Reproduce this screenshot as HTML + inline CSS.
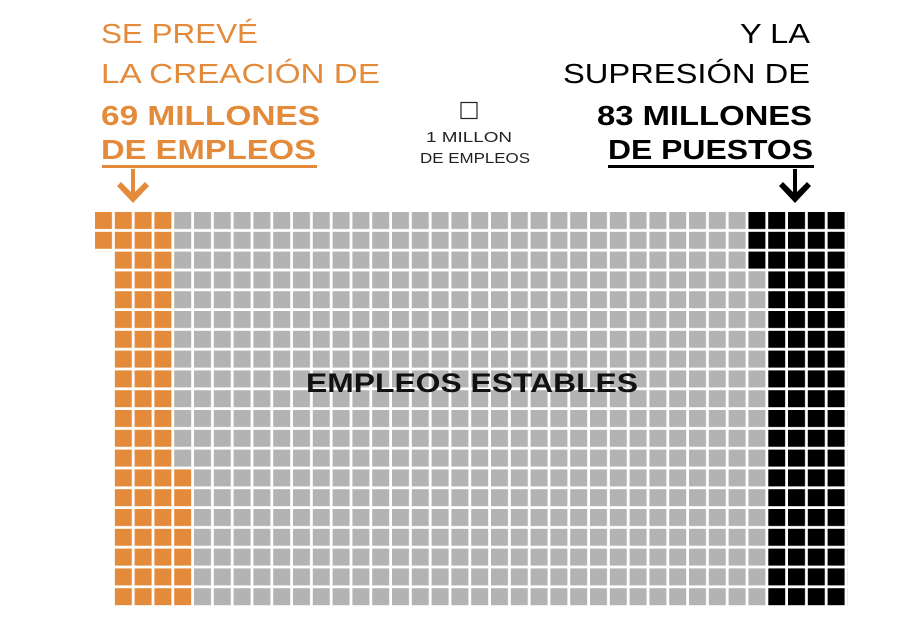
<!DOCTYPE html>
<html><head><meta charset="utf-8"><style>
html,body{margin:0;padding:0;background:#fff;}
svg{display:block;font-family:"Liberation Sans",sans-serif;}
</style></head><body>
<svg width="900" height="630" viewBox="0 0 900 630" xmlns="http://www.w3.org/2000/svg">
<defs>
<pattern id="pg" patternUnits="userSpaceOnUse" x="95" y="212" width="19.8" height="19.8"><rect width="17" height="17" fill="#b3b3b3"/></pattern>
<pattern id="po" patternUnits="userSpaceOnUse" x="95" y="212" width="19.8" height="19.8"><rect width="17" height="17" fill="#e38b3a"/></pattern>
<pattern id="pb" patternUnits="userSpaceOnUse" x="95" y="212" width="19.8" height="19.8"><rect width="17" height="17" fill="#000"/></pattern>
</defs>
<rect x="95" y="212" width="752.4" height="396" fill="url(#pg)"/>
<rect x="94" y="251.6" width="19" height="360" fill="#fff"/>
<rect x="95" y="212" width="79.2" height="39.6" fill="#fff"/>
<rect x="95" y="212" width="79.2" height="39.6" fill="url(#po)"/>
<rect x="114.8" y="251.6" width="59.4" height="217.8" fill="#fff"/>
<rect x="114.8" y="251.6" width="59.4" height="217.8" fill="url(#po)"/>
<rect x="114.8" y="469.4" width="79.2" height="138.6" fill="#fff"/>
<rect x="114.8" y="469.4" width="79.2" height="138.6" fill="url(#po)"/>
<rect x="748.4" y="212" width="99" height="59.4" fill="#fff"/>
<rect x="748.4" y="212" width="99" height="59.4" fill="url(#pb)"/>
<rect x="768.2" y="271.4" width="79.2" height="336.6" fill="#fff"/>
<rect x="768.2" y="271.4" width="79.2" height="336.6" fill="url(#pb)"/>
<g fill="#e38b3a">
<text x="101" y="43" font-size="28" textLength="157" lengthAdjust="spacingAndGlyphs">SE PREVÉ</text>
<text x="101" y="83" font-size="28" textLength="279" lengthAdjust="spacingAndGlyphs">LA CREACIÓN DE</text>
<text x="101" y="125" font-size="28" font-weight="bold" textLength="219" lengthAdjust="spacingAndGlyphs">69 MILLONES</text>
<text x="101" y="159" font-size="28" font-weight="bold" textLength="215" lengthAdjust="spacingAndGlyphs">DE EMPLEOS</text>
<rect x="102" y="165" width="215" height="3"/>
<rect x="131" y="169" width="4" height="28"/>
<polygon points="117,186 121,182 133,194 145,182 149,186 133,203"/>
</g>
<g fill="#000">
<text x="810" y="43" font-size="28" text-anchor="end" textLength="70" lengthAdjust="spacingAndGlyphs">Y LA</text>
<text x="810" y="83" font-size="28" text-anchor="end" textLength="247" lengthAdjust="spacingAndGlyphs">SUPRESIÓN DE</text>
<text x="812" y="125" font-size="28" font-weight="bold" text-anchor="end" textLength="215" lengthAdjust="spacingAndGlyphs">83 MILLONES</text>
<text x="813" y="159" font-size="28" font-weight="bold" text-anchor="end" textLength="205" lengthAdjust="spacingAndGlyphs">DE PUESTOS</text>
<rect x="608" y="165" width="206" height="3"/>
<rect x="793" y="169" width="4" height="28"/>
<polygon points="779,186 783,182 795,194 807,182 811,186 795,203"/>
</g>
<rect x="461" y="102.5" width="16" height="16" fill="none" stroke="#222" stroke-width="1.2"/>
<text x="469" y="142" font-size="15" text-anchor="middle" fill="#222" textLength="86" lengthAdjust="spacingAndGlyphs">1 MILLON</text>
<text x="475" y="163" font-size="15" text-anchor="middle" fill="#222" textLength="110" lengthAdjust="spacingAndGlyphs">DE EMPLEOS</text>
<text x="306" y="392" font-size="27" font-weight="bold" fill="#111" textLength="332" lengthAdjust="spacingAndGlyphs">EMPLEOS ESTABLES</text>
</svg>
</body></html>
